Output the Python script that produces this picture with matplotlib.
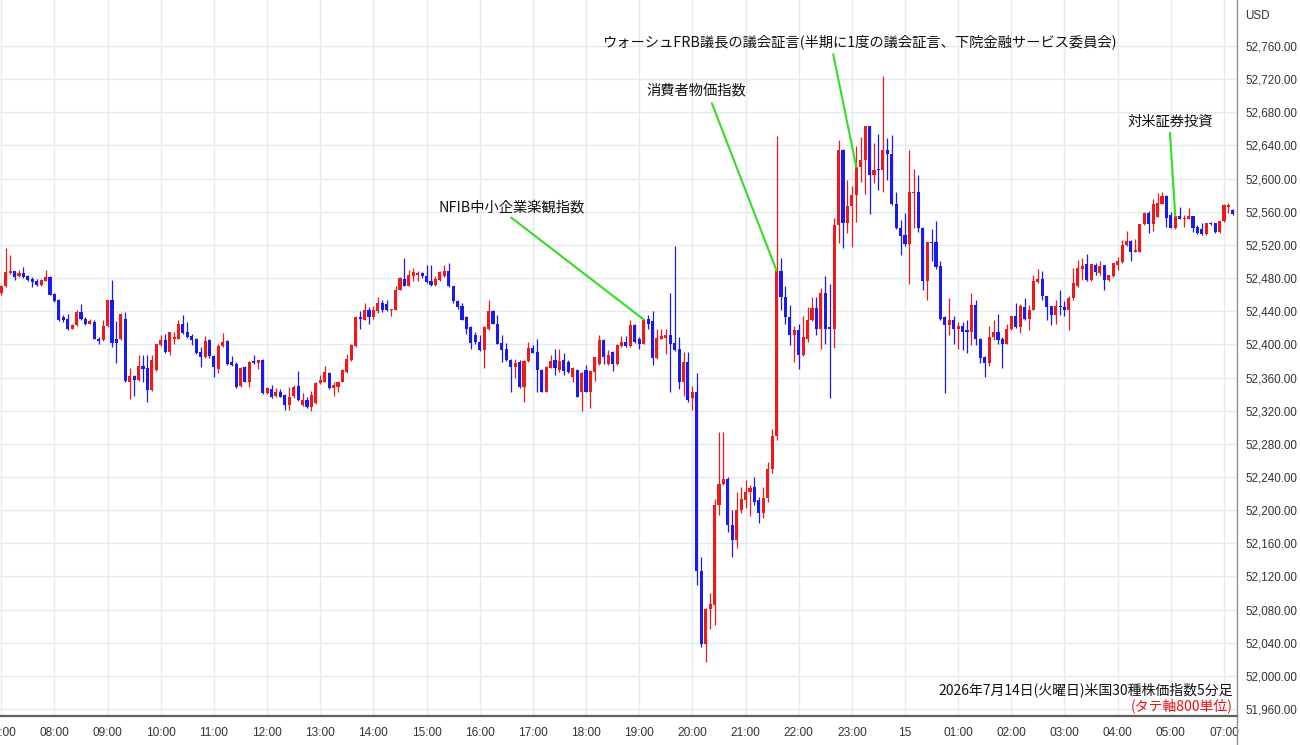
import matplotlib
matplotlib.use('Agg')
import matplotlib.pyplot as plt
from matplotlib.lines import Line2D

plt.rcParams['font.family'] = ['Noto Sans CJK JP', 'DejaVu Sans']

# ---- 5-minute OHLC data (US30) ----
opens = [
52462,52470,52486,52488,52482,52486,52482,52479,52477,52472,
52477,52481,52461,52454,52433,52431,52419,52423,52439,52431,
52425,52427,52407,52405,52422,52453,52406,52406,52431,52355,
52362,52357,52374,52371,52345,52369,52399,52405,52391,52407,
52407,52424,52415,52410,52407,52391,52385,52405,52386,52370,
52398,52404,52379,52376,52350,52373,52355,52380,52378,52381,
52341,52346,52338,52343,52339,52327,52338,52350,52327,52333,
52324,52329,52353,52355,52366,52347,52349,52355,52367,52381,
52398,52433,52430,52442,52433,52440,52450,52449,52441,52442,
52466,52479,52471,52483,52484,52486,52483,52477,52472,52478,
52482,52488,52470,52452,52446,52433,52421,52411,52403,52393,
52419,52440,52425,52402,52394,52381,52373,52379,52349,52380,
52396,52391,52369,52343,52372,52381,52369,52381,52379,52361,
52369,52343,52369,52343,52367,52376,52405,52376,52391,52376,
52398,52403,52398,52423,52407,52400,52431,52428,52383,52407,
52408,52411,52402,52394,52355,52379,52335,52342,52126,52039,
52081,52086,52206,52232,52238,52182,52164,52200,52212,52222,
52228,52212,52196,52215,52250,52290,52489,52457,52433,52411,
52417,52387,52407,52429,52444,52419,52462,52421,52419,52544,
52635,52546,52567,52580,52614,52622,52663,52604,52611,52610,
52635,52630,52569,52541,52532,52521,52583,52584,52541,52476,
52524,52523,52494,52433,52423,52429,52418,52422,52417,52415,
52448,52407,52385,52378,52409,52415,52406,52401,52418,52434,
52421,52445,52431,52442,52475,52479,52458,52446,52436,52446,
52445,52442,52456,52470,52491,52497,52478,52496,52486,52496,
52478,52482,52496,52499,52520,52525,52512,52512,52545,52559,
52545,52554,52569,52579,52556,52540,52555,52551,52551,52555,
52542,52539,52533,52547,52546,52535,52549,52566,52562]

highs = [
52472,52516,52508,52489,52490,52493,52484,52481,52479,52479,
52490,52482,52462,52455,52436,52437,52425,52441,52449,52433,
52431,52430,52409,52429,52454,52478,52428,52438,52439,52371,
52363,52387,52387,52387,52387,52401,52411,52413,52415,52415,
52429,52435,52427,52413,52408,52397,52410,52406,52387,52401,
52414,52405,52386,52379,52373,52374,52380,52387,52381,52382,
52348,52351,52347,52346,52340,52349,52351,52368,52341,52337,
52344,52355,52363,52374,52367,52354,52355,52370,52388,52400,
52434,52440,52450,52445,52446,52457,52453,52453,52443,52470,
52481,52504,52490,52492,52488,52487,52496,52496,52482,52488,
52496,52498,52471,52454,52450,52434,52422,52415,52411,52422,
52454,52441,52435,52411,52402,52382,52382,52381,52381,52403,
52399,52407,52370,52374,52387,52395,52395,52389,52381,52373,
52370,52367,52375,52369,52385,52411,52406,52393,52392,52401,
52410,52410,52429,52425,52409,52431,52435,52440,52418,52418,
52418,52462,52519,52409,52391,52391,52350,52365,52143,52082,
52100,52214,52294,52294,52240,52200,52222,52228,52236,52230,
52240,52216,52228,52258,52298,52651,52504,52470,52448,52422,
52425,52434,52445,52457,52457,52468,52482,52473,52552,52646,
52636,52598,52591,52639,52650,52664,52664,52643,52654,52724,
52649,52653,52584,52550,52559,52634,52612,52604,52542,52524,
52539,52549,52500,52434,52456,52434,52427,52427,52429,52462,
52454,52408,52386,52422,52429,52437,52409,52425,52434,52450,
52449,52456,52448,52484,52491,52488,52458,52446,52453,52466,
52452,52458,52492,52502,52504,52509,52497,52498,52500,52496,
52484,52498,52505,52526,52537,52526,52527,52545,52560,52561,
52575,52583,52584,52580,52560,52555,52566,52556,52564,52555,
52544,52546,52547,52548,52547,52549,52569,52571,52563]

lows = [
52460,52469,52485,52478,52481,52480,52476,52469,52470,52470,
52476,52459,52451,52428,52427,52417,52418,52422,52430,52423,
52424,52406,52400,52404,52421,52397,52377,52405,52355,52334,
52338,52356,52355,52331,52344,52368,52398,52390,52387,52401,
52406,52413,52408,52399,52388,52373,52384,52384,52361,52366,
52397,52375,52374,52347,52349,52354,52349,52376,52370,52340,
52340,52335,52337,52336,52321,52321,52335,52332,52326,52323,
52319,52328,52352,52354,52346,52338,52343,52354,52366,52380,
52397,52419,52429,52425,52431,52438,52439,52440,52434,52441,
52465,52470,52470,52476,52476,52480,52474,52471,52471,52477,
52481,52469,52450,52443,52429,52412,52395,52401,52392,52371,
52417,52424,52400,52379,52380,52343,52359,52347,52330,52379,
52389,52343,52342,52342,52371,52363,52367,52363,52366,52355,
52336,52320,52342,52323,52356,52375,52376,52375,52368,52375,
52397,52397,52397,52402,52395,52400,52418,52375,52382,52406,
52388,52343,52392,52346,52338,52331,52321,52110,52035,52017,
52057,52061,52194,52230,52174,52144,52154,52196,52202,52193,
52206,52185,52190,52210,52245,52285,52441,52425,52399,52379,
52370,52386,52403,52428,52411,52394,52400,52335,52396,52522,
52516,52534,52518,52548,52596,52581,52557,52595,52586,52584,
52598,52568,52539,52508,52519,52473,52540,52536,52466,52453,
52500,52491,52430,52341,52411,52401,52395,52393,52390,52399,
52399,52377,52361,52374,52405,52401,52371,52400,52417,52420,
52414,52430,52417,52441,52474,52454,52430,52423,52425,52436,
52434,52417,52454,52469,52478,52477,52477,52484,52484,52466,
52477,52481,52490,52498,52519,52500,52512,52511,52544,52534,
52537,52554,52569,52542,52540,52539,52551,52542,52551,52536,
52533,52532,52532,52544,52534,52534,52548,52559,52556]

closes = [
52470,52487,52488,52481,52486,52481,52478,52475,52472,52478,
52481,52460,52452,52429,52430,52419,52423,52439,52431,52425,
52428,52407,52404,52422,52453,52402,52402,52437,52356,52362,
52357,52374,52370,52345,52381,52400,52405,52391,52415,52408,
52424,52414,52409,52405,52389,52385,52404,52386,52373,52398,
52403,52376,52375,52348,52371,52355,52379,52377,52381,52341,
52347,52337,52343,52336,52327,52337,52348,52333,52333,52324,
52339,52353,52357,52367,52347,52351,52355,52369,52382,52399,
52433,52431,52441,52433,52441,52450,52441,52441,52442,52466,
52480,52471,52484,52487,52486,52482,52475,52472,52479,52487,
52488,52470,52452,52445,52430,52419,52402,52403,52393,52421,
52440,52425,52401,52393,52381,52373,52378,52348,52380,52396,
52390,52369,52343,52373,52380,52371,52380,52368,52367,52372,
52337,52366,52343,52368,52385,52405,52385,52387,52376,52399,
52403,52398,52423,52403,52400,52430,52425,52384,52408,52410,
52411,52401,52393,52355,52379,52333,52342,52126,52039,52081,
52087,52206,52232,52237,52182,52164,52200,52213,52222,52227,
52210,52196,52215,52250,52290,52489,52457,52433,52411,52417,
52387,52409,52429,52444,52419,52462,52419,52419,52544,52635,
52546,52567,52580,52614,52622,52663,52604,52610,52610,52635,
52630,52569,52540,52531,52521,52584,52584,52540,52476,52524,
52522,52493,52431,52423,52429,52418,52422,52415,52415,52448,
52406,52384,52378,52409,52415,52405,52401,52419,52434,52421,
52446,52431,52442,52476,52479,52458,52445,52436,52446,52445,
52442,52456,52474,52492,52495,52478,52497,52487,52495,52478,
52484,52498,52500,52520,52525,52511,52513,52545,52559,52545,
52569,52570,52579,52553,52541,52555,52551,52553,52555,52541,
52534,52533,52547,52545,52535,52549,52568,52568,52557]

# time-axis labels (one per hour, 06:00 is the market break)
hour_labels = ['07:00', '08:00', '09:00', '10:00', '11:00', '12:00', '13:00',
               '14:00', '15:00', '16:00', '17:00', '18:00', '19:00', '20:00',
               '21:00', '22:00', '23:00', '15', '01:00', '02:00', '03:00',
               '04:00', '05:00', '07:00']
price_ticks = list(range(51960, 52761, 40))

# event annotations: text, candle number the line points to
events = ['ウォーシュFRB議長の議会証言(半期に1度の議会証言、下院金融サービス委員会)',
          '消費者物価指数', 'NFIB中小企業楽観指数', '対米証券投資']
event_candles = [194, 176, 146, 266]

title_text = '2026年7月14日(火曜日)米国30種株価指数5分足'
unit_text = '(タテ軸800単位)'

# ---------------- drawing ----------------
W, H = 1300, 745
fig = plt.figure(figsize=(W / 100, H / 100), dpi=100)
ax = fig.add_axes([0, 29 / H, 1237 / W, 716 / H])

RED = '#ee1a1a'
BLUE = '#1a1aee'
n = len(opens)
xs = list(range(1, n + 1))
cols = [RED if c >= o else BLUE for o, c in zip(opens, closes)]
ax.vlines(xs, lows, highs, colors=cols, linewidth=0.9, zorder=3)
bottoms = [min(o, c) for o, c in zip(opens, closes)]
heights = [max(abs(c - o), 1.3) for o, c in zip(opens, closes)]
ax.bar(xs, heights, bottom=bottoms, width=0.7, color=cols, linewidth=0, zorder=4)

ax.set_xlim(0.71, 279.94)
ax.set_ylim(51951.6, 52815.5)

tick_pos = [1 + 12 * h for h in range(len(hour_labels))]
ax.set_xticks(tick_pos)
ax.set_xticklabels(hour_labels, fontsize=8.6, color='#333333', family='Liberation Sans')
ax.set_yticks(price_ticks)
ax.set_yticklabels([f'{v:,.2f}' for v in price_ticks], fontsize=8.4, color='#333333',
                   family='Liberation Sans')
ax.yaxis.tick_right()
ax.tick_params(axis='both', length=0)
ax.tick_params(axis='y', pad=6)
ax.tick_params(axis='x', pad=8)
ax.grid(True, color='#e3eaf1', linewidth=1.0, zorder=0)
ax.set_axisbelow(True)
for s in ['top', 'left']:
    ax.spines[s].set_visible(False)
ax.spines['bottom'].set_color('#606060')
ax.spines['bottom'].set_linewidth(1.6)
ax.spines['right'].set_color('#909090')
ax.spines['right'].set_linewidth(1.0)
fig.add_artist(Line2D([1237 / W, 1237 / W], [0, 29 / H], color='#909090', lw=1.0))

# annotation geometry (line start / text centre in data units)
line_start = [(188.8, 52750), (161.4, 52691), (116.1, 52553), (264.8, 52655)]
text_pos = [(194.8, 52765), (158.0, 52706), (116.3, 52565), (264.8, 52668)]
for txt, k, (lx, ly), (tx, ty) in zip(events, event_candles, line_start, text_pos):
    ax.plot([lx, k], [ly, closes[k - 1]], color='#33dd22', lw=1.5, zorder=5,
            solid_capstyle='round')
    ax.text(tx, ty, txt, ha='center', va='center', fontsize=10.3, color='#111111', zorder=6)

ax.text(279.0, 51983, title_text, ha='right', va='center', fontsize=10.0, color='#111111')
ax.text(279.0, 51964, unit_text, ha='right', va='center', fontsize=10.0, color='#ee1111')

fig.text(1245 / W, 1 - 16 / H, 'USD', ha='left', va='center', fontsize=8.4,
         color='#333333', family='Liberation Sans')

fig.savefig('out.png', dpi=100)
